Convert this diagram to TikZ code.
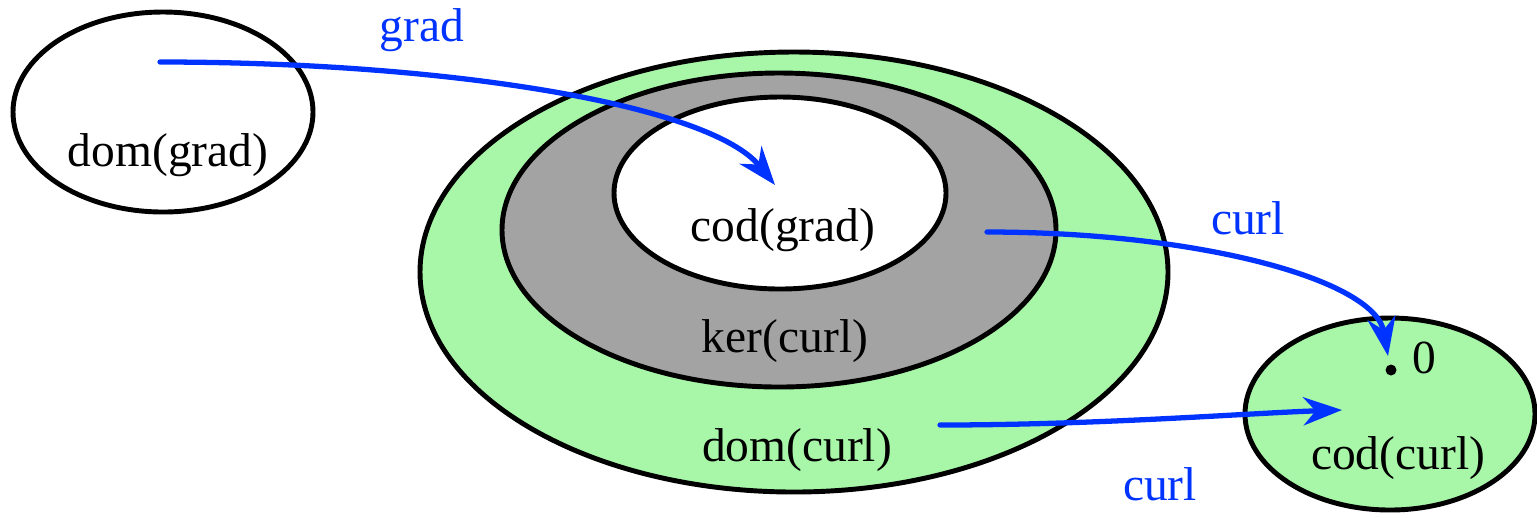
\documentclass[tikz,border=0pt]{standalone}
\usepackage{fontspec}
\setmainfont{Liberation Serif}
\usetikzlibrary{arrows.meta}
\definecolor{setgreen}{RGB}{168,247,168}
\definecolor{setgray}{RGB}{163,163,163}
\definecolor{mapblue}{RGB}{0,51,255}
\begin{document}
\begin{tikzpicture}[x=0.01cm,y=-0.01cm,
  setline/.style={draw=black,line width=1.4pt},
  lbl/.style={font=\fontsize{13.5pt}{16pt}\selectfont,inner sep=0pt},
  maplbl/.style={lbl,text=mapblue},
  maparrow/.style={draw=mapblue,line width=1.5pt,line cap=round,-{Stealth[length=11pt,width=8pt,inset=3.5pt]}}]
\useasboundingbox (0,0) rectangle (1537,517);
% ellipses
\draw[setline,fill=white] (163,112) ellipse [x radius=150,y radius=100];
\draw[setline,fill=setgreen] (794,272) ellipse [x radius=374,y radius=220];
\draw[setline,fill=setgray] (779,230) ellipse [x radius=277,y radius=157];
\draw[setline,fill=white] (780,193) ellipse [x radius=166,y radius=96];
\draw[setline,fill=setgreen] (1390,414) ellipse [x radius=145,y radius=96];
% labels
\node[lbl] (domgrad) at (168,155) {dom(grad)};
\node[lbl] (codgrad) at (783,230) {cod(grad)};
\node[lbl] (kercurl) at (785,341) {ker(curl)};
\node[lbl] (domcurl) at (797,450) {dom(curl)};
\node[lbl] (codcurl) at (1398,458) {cod(curl)};
\node[lbl] (zero) at (1424,358) {0};
\fill (1391,370) circle (0.055cm);
\coordinate (zerodot) at (1388,356);
\node[maplbl] (gradlbl) at (422,30) {grad};
\node[maplbl] (curllbl1) at (1248,218) {curl};
\node[maplbl] (curllbl2) at (1160,484) {curl};
% arrow endpoints
\coordinate (gradstart) at (160,62);
\coordinate (gradend) at (775,185);
\coordinate (curlstart1) at (987,232);
\coordinate (curlstart2) at (940,425);
\coordinate (curlend2) at (1342,410);
\draw[maparrow] (gradstart) .. controls (450,62) and (710,105) .. (gradend);
\draw[maparrow] (curlstart1) .. controls (1200,232) and (1375,280) .. (zerodot);
\draw[maparrow] (curlstart2) .. controls (1100,425) and (1250,413) .. (curlend2);
\end{tikzpicture}
\end{document}
